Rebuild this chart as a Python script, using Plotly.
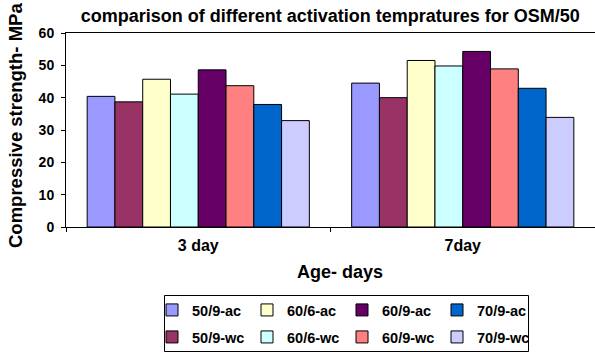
import plotly.graph_objects as go

categories = ["3 day", "7day"]
series_names = ["50/9-ac", "50/9-wc", "60/6-ac", "60/6-wc", "60/9-ac", "60/9-wc", "70/9-ac", "70/9-wc"]
v_50_9_ac = [40.4, 44.5]
v_50_9_wc = [38.7, 40.0]
v_60_6_ac = [45.7, 51.5]
v_60_6_wc = [41.1, 49.8]
v_60_9_ac = [48.6, 54.3]
v_60_9_wc = [43.7, 48.9]
v_70_9_ac = [37.9, 42.9]
v_70_9_wc = [32.9, 33.9]
values = [v_50_9_ac, v_50_9_wc, v_60_6_ac, v_60_6_wc, v_60_9_ac, v_60_9_wc, v_70_9_ac, v_70_9_wc]
colors = ["#9999FF", "#993366", "#FFFFCC", "#CCFFFF", "#660066", "#FF8080", "#0066CC", "#CCCCFF"]

FONT = "Liberation Sans, Arial, sans-serif"

def bfont(size):
    return dict(family=FONT, size=size, color="black", weight="bold")

fig = go.Figure()
for name, vals, col in zip(series_names, values, colors):
    fig.add_trace(go.Bar(
        x=categories, y=vals, name=name,
        marker=dict(color=col, line=dict(color="black", width=1)),
        legend="legend" if name.endswith("ac") else "legend2",
    ))

legend_common = dict(
    orientation="h", xref="container", yref="container",
    font=bfont(14.5),
    bgcolor="rgba(0,0,0,0)", entrywidth=50, entrywidthmode="pixels",
    itemwidth=30, tracegroupgap=0, xanchor="left", yanchor="middle",
)

fig.update_layout(
    width=595, height=355,
    margin=dict(l=66, r=0, t=33, b=128),
    paper_bgcolor="white", plot_bgcolor="white",
    barmode="group", bargap=0.16, bargroupgap=0,
    showlegend=True,
    title=dict(text="comparison of different activation tempratures for OSM/50",
               x=0.555, xanchor="center", y=0.955, yanchor="middle",
               font=bfont(18)),
    font=dict(family=FONT, color="black"),
    legend=dict(x=152 / 595, y=1 - 310 / 355, **legend_common),
    legend2=dict(x=152 / 595, y=1 - 337 / 355, **legend_common),
    shapes=[dict(type="rect", xref="paper", yref="paper",
                 x0=(164.5 - 66) / 529, x1=(528.5 - 66) / 529,
                 y0=-(351.5 - 227) / 194, y1=-(295.5 - 227) / 194,
                 line=dict(color="black", width=1), fillcolor="rgba(0,0,0,0)")],
    annotations=[
        dict(text="Compressive strength- MPa", textangle=-90, showarrow=False,
             xref="paper", yref="paper", xanchor="center", yanchor="middle",
             x=(16 - 66) / 529, y=(227 - 126) / 194, font=bfont(18.5)),
        dict(text="Age- days", showarrow=False,
             xref="paper", yref="paper", xanchor="center", yanchor="middle",
             x=(339.5 - 66) / 529, y=(227 - 271.5) / 194, font=bfont(18)),
    ],
)

fig.update_xaxes(
    showline=True, linecolor="black", linewidth=1, mirror=True,
    ticks="outside", ticklen=4, tickcolor="black", tickson="boundaries",
    tickfont=bfont(16), ticklabelstandoff=4,
    showgrid=False,
)
fig.update_yaxes(
    range=[0, 60], dtick=10,
    showline=True, linecolor="black", linewidth=1, mirror=True,
    ticks="outside", ticklen=4, tickcolor="black",
    tickfont=bfont(14), ticklabelstandoff=4,
    showgrid=False, zeroline=False,
)

fig.write_html("out.html")
